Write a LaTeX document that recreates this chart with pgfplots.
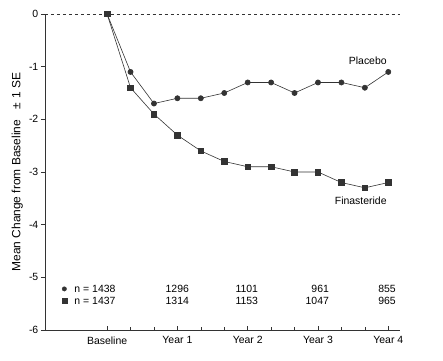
\documentclass[border=0pt]{standalone}
\usepackage{fontspec}
\setmainfont{Liberation Sans}
\usepackage{pgfplots}
\pgfplotsset{compat=1.18}
\definecolor{ink}{HTML}{333333}
\begin{document}
\fontsize{10.5}{12.5}\selectfont
\begin{tikzpicture}
\useasboundingbox (-45bp,-31bp) rectangle (398bp,330bp);
\begin{axis}[
  at={(0,0)}, anchor=south west,
  scale only axis, width=355bp, height=316bp,
  xmin=-10.6, xmax=50, ymin=-6, ymax=0,
  axis x line*=bottom, axis y line*=left,
  axis line style={ink, line width=0.6pt},
  xtick={0,12,24,36,48},
  xticklabels={Baseline,Year 1,Year 2,Year 3,Year 4},
  minor xtick={4,8,16,20,28,32,40,44},
  x tick style={ink, line width=0.6pt},
  xtick align=inside,
  major tick length=4bp, minor tick length=3bp,
  ytick={-6,-5,-4,-3,-2,-1,0},
  yticklabels={-6,-5,-4,-3,-2,-1,0},
  y tick style={ink, line width=0.6pt},
  ytick align=outside,
  xticklabel style={yshift=-3bp},
  yticklabel style={xshift=1bp},
  ylabel={Mean Change from Baseline\hspace{0.9em}±\hspace{0.35em}1 SE},
  ylabel style={font=\fontsize{12}{14}\selectfont, yshift=-1bp},
  clip=false,
]
\addplot[ink, dashed, line width=0.6pt] coordinates {(-10.6,0) (50,0)};
\addplot[ink, line width=0.6pt, mark=*, mark size=2.6bp, mark options={fill=ink}] coordinates {
(0,0) (4,-1.1) (8,-1.7) (12,-1.6) (16,-1.6) (20,-1.5) (24,-1.3) (28,-1.3) (32,-1.5) (36,-1.3) (40,-1.3) (44,-1.4) (48,-1.1)};
\addplot[ink, line width=0.6pt, mark=square*, mark size=2.8bp, mark options={fill=ink}] coordinates {
(0,0) (4,-1.4) (8,-1.9) (12,-2.3) (16,-2.6) (20,-2.8) (24,-2.9) (28,-2.9) (32,-3.0) (36,-3.0) (40,-3.2) (44,-3.3) (48,-3.2)};
\addplot[ink, only marks, mark=*, mark size=2.2bp, mark options={fill=ink}] coordinates {(-7.3,-5.22)};
\addplot[ink, only marks, mark=square*, mark size=2.4bp, mark options={fill=ink}] coordinates {(-7.3,-5.44)};
\node[anchor=west, inner sep=0] at (axis cs:-5.6,-5.22) {n = 1438};
\node[anchor=west, inner sep=0] at (axis cs:-5.6,-5.44) {n = 1437};
\node[anchor=east, inner sep=0] at (axis cs:14.0,-5.22) {1296};
\node[anchor=east, inner sep=0] at (axis cs:14.0,-5.44) {1314};
\node[anchor=east, inner sep=0] at (axis cs:25.8,-5.22) {1101};
\node[anchor=east, inner sep=0] at (axis cs:25.8,-5.44) {1153};
\node[anchor=east, inner sep=0] at (axis cs:37.9,-5.22) {961};
\node[anchor=east, inner sep=0] at (axis cs:37.9,-5.44) {1047};
\node[anchor=east, inner sep=0] at (axis cs:49.3,-5.22) {855};
\node[anchor=east, inner sep=0] at (axis cs:49.3,-5.44) {965};
\node[inner sep=0] at (axis cs:44.5,-0.89) {Placebo};
\node[inner sep=0] at (axis cs:43.3,-3.55) {Finasteride};
\end{axis}
\end{tikzpicture}
\end{document}
